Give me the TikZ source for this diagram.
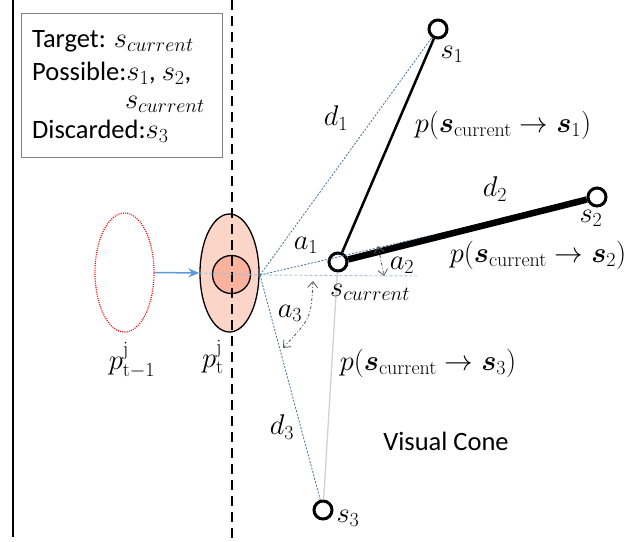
\RequirePackage{fix-cm}
\documentclass[tikz,border=0pt]{standalone}
\usepackage{amsmath,bm}
\usepackage[no-math]{fontspec}
\setmainfont{Carlito}
\DeclareMathSizes{26.5}{28.5}{20}{15}
\usetikzlibrary{arrows.meta,shapes.geometric}
\definecolor{dotblue}{HTML}{41719C}
\definecolor{lblue}{HTML}{5B9BD5}
\definecolor{hblue}{HTML}{9DC3E6}
\definecolor{pinkfill}{HTML}{FCD5C9}
\definecolor{salmon}{HTML}{F8B29E}
\definecolor{anglegray}{HTML}{595959}
\tikzset{
  lbl/.style={font=\fontsize{26.5}{31}\selectfont, inner sep=0pt},
  state/.style={circle, draw=black, line width=3pt, fill=white, minimum size=18pt, inner sep=0pt},
  ray/.style={dotblue, line width=0.8pt, dash pattern=on 2pt off 1.5pt},
  anglearr/.style={anglegray, line width=0.8pt, dash pattern=on 3pt off 2pt on 1pt off 2pt,
     {Straight Barb[length=6pt,width=10pt]}-{Straight Barb[length=6pt,width=10pt]}},
}
\begin{document}
\begin{tikzpicture}[x=1pt,y=-1pt]
\useasboundingbox (0,0) rectangle (644,541);
% left border line
\coordinate (ltop) at (13,0);
\coordinate (lbot) at (13,537);
\draw[line width=1.5pt] (ltop) -- (lbot);
% legend box
\node[draw=gray, line width=1.2pt, minimum width=201pt, minimum height=144pt, anchor=north west, inner sep=0pt] (legend) at (21,13) {};
\node[lbl, anchor=base west] (t1) at (32,47) {Target: $s_{current}$};
\node[lbl, anchor=base west] (t2) at (32,80) {Possible:$s_1$, $s_2$,};
\node[lbl, anchor=base east] (t3) at (205,108) {$s_{current}$};
\node[lbl, anchor=base west] (t4) at (32,138) {Discarded:$s_3$};
% ellipses
\node[ellipse, draw=red, line width=1.2pt, dash pattern=on 1pt off 1.2pt, minimum width=59pt, minimum height=119pt, inner sep=0pt] (pprev) at (124.5,272.5) {};
\node[ellipse, draw=black, fill=pinkfill, line width=1.3pt, minimum width=59pt, minimum height=118pt, inner sep=0pt] (pcur) at (229.5,273) {};
\node[circle, draw=black, fill=salmon, line width=1.3pt, minimum size=38pt, inner sep=0pt] (pin) at (231.5,274.5) {};
% vertical dashed line
\coordinate (dtop) at (232,0);
\coordinate (dbot) at (232,541);
\draw[line width=2.5pt, dash pattern=on 10pt off 6pt] (dtop) -- (dbot);
% focus and horizontal
\coordinate (F) at (260,275);
\coordinate (hend) at (418,276);
\draw[lblue, line width=1.5pt, -{Stealth[length=11pt,width=9pt]}] (pprev.east) -- (pcur.west);
\draw[hblue, line width=0.9pt, dash pattern=on 3pt off 2pt] (pcur.west) -- (F) -- (hend);
% states
\node[state] (sc) at (338,262) {};
\node[state] (s1) at (438,29) {};
\node[state] (s2) at (597,197) {};
\node[state] (s3) at (323,510) {};
% rays
\draw[ray] (F) -- (s1);
\draw[ray] (F) -- (s2);
\draw[ray] (F) -- (s3);
% transitions
\draw[line width=2.5pt] (sc) -- (s1);
\draw[line width=6.5pt] (sc) -- (s2);
\draw[black!18, line width=1.3pt] (sc) -- (s3);
% angle arrows
\coordinate (a2s) at (378,246);
\coordinate (a2e) at (384,276);
\draw[anglearr] (a2s) -- (a2e);
\coordinate (a3s) at (313,281);
\coordinate (a3e) at (283,348);
\draw[anglearr] (a3s) .. controls (311,318) .. (a3e);
% labels
\node[lbl] (ls1) at (452,54) {$s_1$};
\node[lbl] (ls2) at (591,218) {$s_2$};
\node[lbl] (ls3) at (348,518) {$s_3$};
\node[lbl] (lsc) at (370,292) {$s_{current}$};
\node[lbl] (ld1) at (336,118) {$d_1$};
\node[lbl] (ld2) at (495,189) {$d_2$};
\node[lbl] (ld3) at (282,427) {$d_3$};
\node[lbl] (la1) at (306,245) {$a_1$};
\node[lbl] (la2) at (402,265) {$a_2$};
\node[lbl] (la3) at (290,313) {$a_3$};
\node[lbl] (lp1) at (503,125) {$p(\bm{s}_{\mathrm{current}} \rightarrow \bm{s}_1)$};
\node[lbl] (lp2) at (538,255) {$p(\bm{s}_{\mathrm{current}} \rightarrow \bm{s}_2)$};
\node[lbl] (lp3) at (428,363) {$p(\bm{s}_{\mathrm{current}} \rightarrow \bm{s}_3)$};
\node[lbl] (vc) at (446,441) {Visual Cone};
\node[lbl] (lpp) at (132,360) {$p_{\mathrm{t-1}}^{\mathrm{j}}$};
\node[lbl] (lpc) at (213,357) {$p_{\mathrm{t}}^{\mathrm{j}}$};
\end{tikzpicture}
\end{document}
